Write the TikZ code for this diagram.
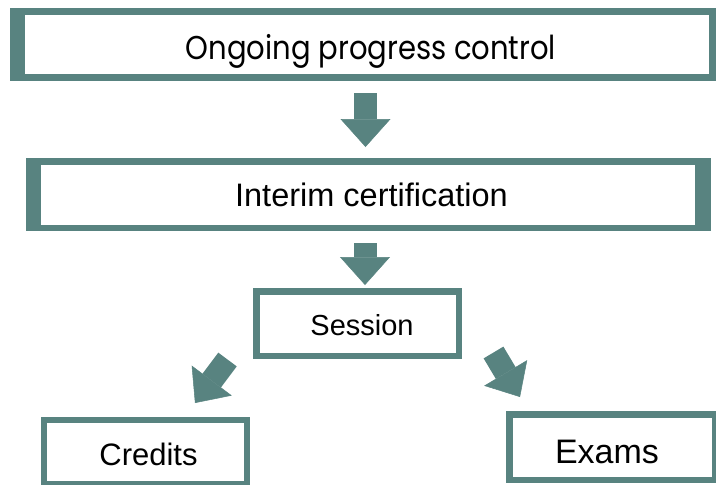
\documentclass[tikz,border=0pt]{standalone}
\usepackage{fontspec}
\setmainfont{Liberation Sans}
\newfontfamily\popfont[FakeStretch=0.88]{Poppins}
\usetikzlibrary{calc,arrows.meta}
\definecolor{boxteal}{RGB}{88,131,128}
\tikzset{
  stagebox/.style={draw=boxteal, fill=white, line width=#1, inner sep=0pt,
    text depth=0pt},
  blockarrow/.style={boxteal, line width=23pt,
    -{Triangle[width=50pt,length=28pt,line width=0.5pt]}},
}

\begin{document}
\begin{tikzpicture}[x=1pt,y=-1pt]
			%%%%% START %%%%%
			\useasboundingbox (0,0) rectangle (716,485);
			
			\node[stagebox=7pt, minimum width=699pt, minimum height=66pt, text height=29pt, font=\popfont\fontsize{33}{40}\selectfont] (ongoing) at (363,44.5) {\hspace*{16pt}Ongoing progress control};
			\fill[boxteal] (ongoing.north west) rectangle ($(ongoing.south west)+(15,0)$);
			
			\node[stagebox=6.5pt, minimum width=678.5pt, minimum height=66.5pt, text height=23.3pt, font=\fontsize{32.5}{38}\selectfont] (interim) at (368.5,194.5) {\hspace*{6pt}Interim certification};
			\fill[boxteal] (interim.north west) rectangle ($(interim.south west)+(15,0)$);
			\fill[boxteal] ($(interim.north east)+(-16,0)$) rectangle (interim.south east);
			
			\node[stagebox=6.5pt, minimum width=202.5pt, minimum height=64.5pt, text height=23.8pt, font=\fontsize{29}{34}\selectfont] (session) at (357.5,323.5) {\hspace*{9pt}Session};
			\node[stagebox=6pt, minimum width=203pt, minimum height=64pt, text height=26.2pt, font=\fontsize{31}{36}\selectfont] (credits) at (145.5,452) {\hspace*{6pt}Credits};
			\node[stagebox=6.5pt, minimum width=205.5pt, minimum height=65.5pt, text height=32.3pt, font=\fontsize{34}{40}\selectfont] (exams) at (612,447) {Exams\hspace*{10pt}};
			
			\draw[blockarrow, shorten <=12pt, shorten >=11pt] (ongoing.south -| 365.5,0) -- (interim.north -| 365.5,0);
			\draw[blockarrow, shorten <=12pt, shorten >=3pt] (interim.south -| 365,0) -- (session.north -| 365,0);
			\draw[blockarrow] ($(session.south west)+(-25.5,0.5)$) -- ($(credits.north east)+(-55,-14)$);
			\draw[blockarrow] ($(session.south east)+(31.5,-6.5)$) -- ($(exams.north west)+(14,-14)$);
			%%%%% END %%%%%
\end{tikzpicture}
\end{document}
